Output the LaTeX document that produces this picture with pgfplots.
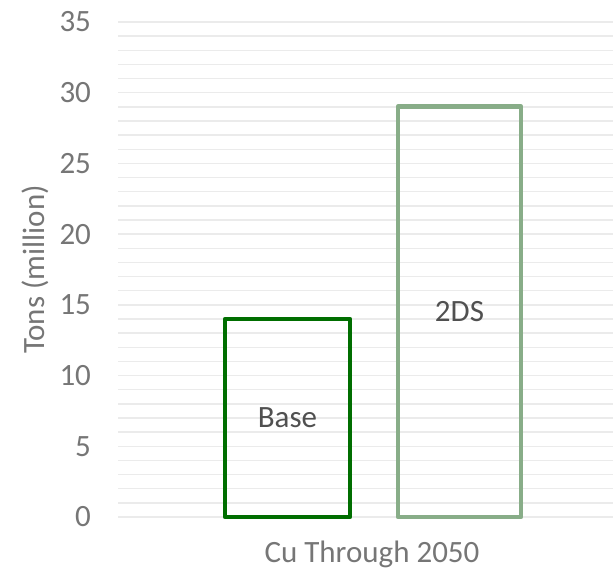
\documentclass[border=0pt]{standalone}
\usepackage{fontspec}
\setmainfont{Carlito}
\usepackage{pgfplots}
\pgfplotsset{compat=1.18}
\usetikzlibrary{calc}
\definecolor{basegreen}{HTML}{006E00}
\definecolor{dsgreen}{HTML}{88AD88}
\definecolor{gridc}{HTML}{EBEBEB}
\definecolor{tickc}{HTML}{767676}
\definecolor{lblc}{HTML}{505050}
\begin{document}
\begin{tikzpicture}
\begin{axis}[
  scale only axis,
  width=247.5pt, height=247.5pt,
  xmin=118, xmax=613,
  ymin=0, ymax=35,
  ytick={0,5,...,35},
  minor y tick num=4,
  ymajorgrids, yminorgrids,
  major grid style={gridc, line width=0.75pt},
  minor grid style={gridc, line width=0.75pt},
  axis line style={draw=none},
  tick style={draw=none},
  major tick length=0pt, minor tick length=0pt,
  xtick={372}, xticklabels={Cu Through 2050},
  /pgf/number format/assume math mode=true,
  tick label style={font=\fontsize{15.5}{18}\selectfont, text=tickc},
  yticklabel style={anchor=east, xshift=-10pt},
  xticklabel style={anchor=center, yshift=-18.5pt},
  ylabel={Tons (million)},
  ylabel style={at={(axis description cs:0,0.5)}, anchor=center, yshift=41.5pt, font=\fontsize{15.5}{18}\selectfont, text=tickc},
  clip=false,
]
\addplot[ybar, bar width=125, bar shift=0pt, draw=basegreen, line width=2.4pt, fill=none, line join=round] coordinates {(287.5,14)};
\addplot[ybar, bar width=123, bar shift=0pt, draw=dsgreen, line width=2.4pt, fill=none, line join=round] coordinates {(459.5,29)};
\node[text=lblc, font=\fontsize{15.5}{18}\selectfont] at (axis cs:287.5,7) {Base};
\node[text=lblc, font=\fontsize{15.5}{18}\selectfont] at (axis cs:459.5,14.5) {2DS};
\end{axis}
\pgfresetboundingbox
\path ($(current axis.south west)+(-59pt,-27.5pt)$) rectangle ($(current axis.north east)+(0,11pt)$);
\end{tikzpicture}
\end{document}
